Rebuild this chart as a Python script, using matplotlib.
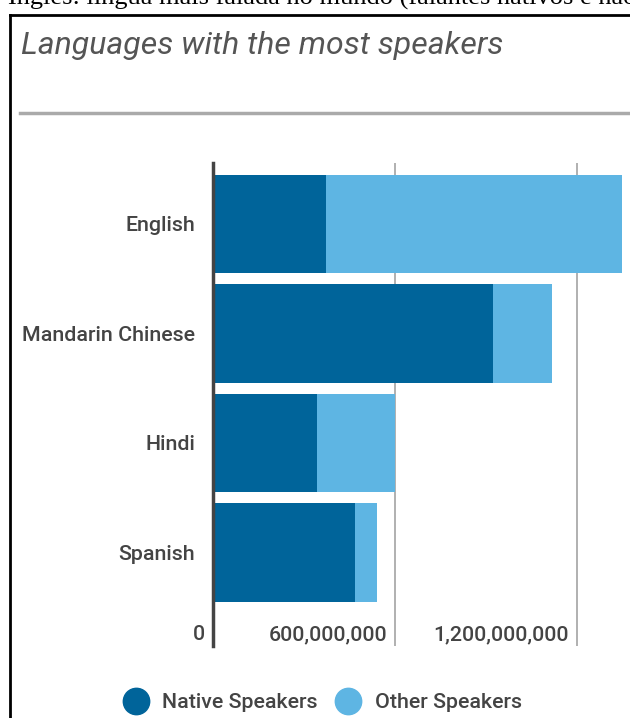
import matplotlib.pyplot as plt
import matplotlib.transforms as mtransforms
from matplotlib.lines import Line2D
from matplotlib.ticker import FuncFormatter

languages = ['English', 'Mandarin Chinese', 'Hindi', 'Spanish']
native = [372e6, 924e6, 343e6, 468e6]
other = [978e6, 194e6, 258e6, 73e6]
ticks = [0, 600e6, 1200e6]
series = ['Native Speakers', 'Other Speakers']

dark_blue = '#00649a'
light_blue = '#5eb5e3'
text_gray = '#444444'

plt.rcParams['font.family'] = ['Roboto', 'DejaVu Sans']
plt.rcParams['font.weight'] = 'medium'

W, H = 630, 718
fig = plt.figure(figsize=(W / 100, H / 100), dpi=100)

# Caption of the page, cut off at the top edge.
fig.text(0.012, 1 - 5 / H, 'Inglês: língua mais falada no mundo (falantes nativos e não nativos)',
         family='Liberation Serif', fontweight='normal', fontsize=19,
         va='baseline', ha='left', color='black')

# Card border (only top and left edge visible).
fig.add_artist(Line2D([10 / W, 10 / W], [0, 1 - 15 / H], transform=fig.transFigure,
                      color='black', lw=2))
fig.add_artist(Line2D([10 / W, 1], [1 - 15 / H, 1 - 15 / H], transform=fig.transFigure,
                      color='black', lw=2))

fig.text(21 / W, 1 - 54 / H, 'Languages with the most speakers', style='italic',
         fontweight='normal', fontsize=23, color='#555555', va='baseline')
fig.add_artist(Line2D([20 / W, 1], [1 - 113 / H, 1 - 113 / H], transform=fig.transFigure,
                      color='#aaaaaa', lw=2.5))

ax = fig.add_axes([213 / W, 1 - 646 / H, 1 - 213 / W, 483 / H])
y = range(len(languages))
ax.barh(y, native, height=0.9, color=dark_blue, zorder=3)
ax.barh(y, other, left=native, height=0.9, color=light_blue, zorder=3)

ax.set_xlim(0, 1375e6)
ax.set_ylim(3.854, -0.557)
ax.set_yticks(list(y))
ax.set_yticklabels(languages)
ax.set_xticks(ticks)
ax.xaxis.set_major_formatter(FuncFormatter(lambda v, p: f'{int(v):,}'))
ax.tick_params(axis='y', length=0, pad=13, labelsize=15.4, labelcolor=text_gray)
ax.tick_params(axis='x', length=0, pad=-8, labelsize=15.4, labelcolor=text_gray)

# x tick labels sit just left of their gridline
shift = mtransforms.ScaledTranslation(-8 / 100, 0, fig.dpi_scale_trans)
for lab in ax.get_xticklabels():
    lab.set_horizontalalignment('right')
    lab.set_verticalalignment('center')
    lab.set_transform(lab.get_transform() + shift)

ax.grid(axis='x', color='#aaaaaa', lw=1.3, zorder=0)
for s in ['top', 'right', 'bottom']:
    ax.spines[s].set_visible(False)
ax.spines['left'].set_color('#444444')
ax.spines['left'].set_linewidth(2.5)
ax.spines['left'].set_zorder(4)

handles = [Line2D([], [], marker='o', ls='', markersize=19, color=c)
           for c in [dark_blue, light_blue]]
fig.legend(handles, series, loc='center', bbox_to_anchor=(318 / W, 1 - 703 / H),
           ncol=2, frameon=False, fontsize=15.4, labelcolor=text_gray,
           handletextpad=0.25, columnspacing=0.4)

fig.savefig('out.png', dpi=100)
